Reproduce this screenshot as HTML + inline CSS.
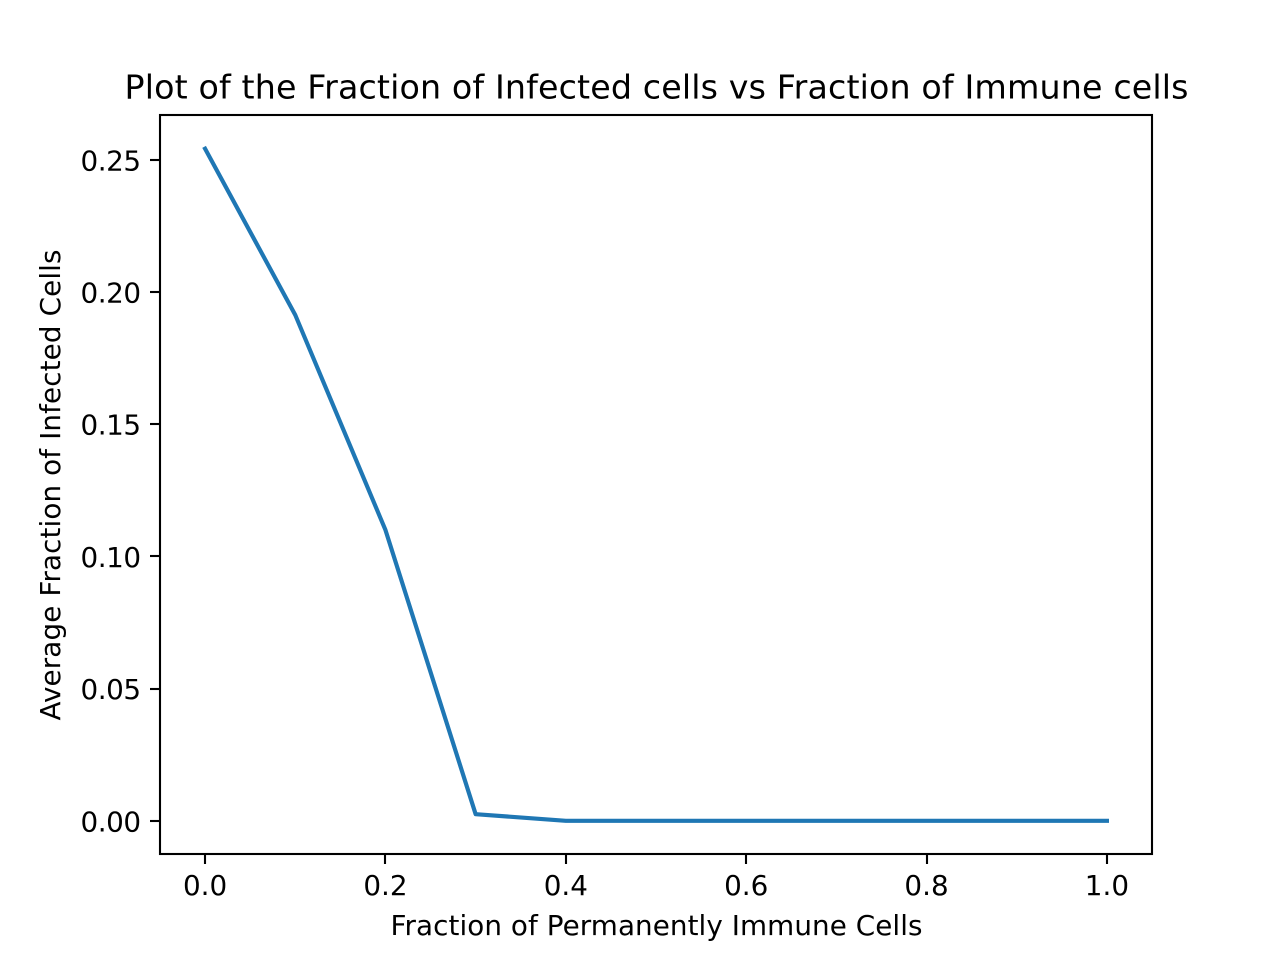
<!DOCTYPE html>
<html>
<head>
<meta charset="utf-8">
<title>Plot of the Fraction of Infected cells vs Fraction of Immune cells</title>
<style>
html,body{margin:0;padding:0;background:#fff;width:1280px;height:960px;overflow:hidden}
svg{display:block}
text{font-family:"DejaVu Sans",sans-serif;fill:#000}
</style>
</head>
<body>
<svg id="chart" xmlns="http://www.w3.org/2000/svg" width="1280" height="960" viewBox="0 0 1280 960">
<rect x="0" y="0" width="1280" height="960" fill="#fff"/>
<g id="ticks"></g>
<polyline id="line" fill="none" stroke="#1f77b4" stroke-width="4.17" stroke-linecap="square" stroke-linejoin="round"/>
<rect x="160" y="115" width="992" height="739" fill="none" stroke="#000" stroke-width="2.1"/>
<text x="656.5" y="98.5" font-size="33.3" text-anchor="middle" textLength="1064" lengthAdjust="spacing">Plot of the Fraction of Infected cells vs Fraction of Immune cells</text>
<text x="656.5" y="935" font-size="27.8" text-anchor="middle" textLength="532" lengthAdjust="spacing">Fraction of Permanently Immune Cells</text>
<text transform="translate(60,485) rotate(-90)" font-size="27.8" text-anchor="middle" textLength="471" lengthAdjust="spacing">Average Fraction of Infected Cells</text>
</svg>
<script>
const fractions = [0.0, 0.1, 0.2, 0.3, 0.4, 0.5, 0.6, 0.7, 0.8, 0.9, 1.0];
const infected = [0.2542, 0.1913, 0.110, 0.0025, 0.0, 0.0, 0.0, 0.0, 0.0, 0.0, 0.0];
const xTicks = ["0.0", "0.2", "0.4", "0.6", "0.8", "1.0"];
const yTicks = ["0.00", "0.05", "0.10", "0.15", "0.20", "0.25"];

const NS = "http://www.w3.org/2000/svg";
function xScale(v) { return 205.09 + v * 901.82; }
function yScale(v) { return 820.8 - v * 2644.0; }

const line = document.getElementById("line");
line.setAttribute("points", fractions.map((f, i) => xScale(f).toFixed(2) + "," + yScale(infected[i]).toFixed(2)).join(" "));

const ticks = document.getElementById("ticks");
xTicks.forEach(function (label) {
  const x = xScale(parseFloat(label));
  const snapped = Math.round(x);
  const tick = document.createElementNS(NS, "line");
  
  
  tick.setAttribute("x1", snapped);
  tick.setAttribute("x2", snapped);
  tick.setAttribute("y1", 854);
  tick.setAttribute("y2", 864);
  tick.setAttribute("stroke", "#000");
  tick.setAttribute("stroke-width", "2.1");
  ticks.appendChild(tick);
  const text = document.createElementNS(NS, "text");
  
  
  text.setAttribute("x", x);
  text.setAttribute("y", 895);
  text.setAttribute("font-size", "27.8");
  text.setAttribute("text-anchor", "middle");
  text.textContent = label;
  ticks.appendChild(text);
});
yTicks.forEach(function (label) {
  const y = yScale(parseFloat(label));
  const snapped = Math.round(y);
  const tick = document.createElementNS(NS, "line");
  
  
  tick.setAttribute("x1", 150);
  tick.setAttribute("x2", 160);
  tick.setAttribute("y1", snapped);
  tick.setAttribute("y2", snapped);
  tick.setAttribute("stroke", "#000");
  tick.setAttribute("stroke-width", "2.1");
  ticks.appendChild(tick);
  const text = document.createElementNS(NS, "text");
  
  
  text.setAttribute("x", 141);
  text.setAttribute("y", y + 10.5);
  text.setAttribute("font-size", "27.8");
  text.setAttribute("text-anchor", "end");
  text.setAttribute("textLength", "60.5");
  text.setAttribute("lengthAdjust", "spacing");
  text.textContent = label;
  ticks.appendChild(text);
});
</script>
</body>
</html>
